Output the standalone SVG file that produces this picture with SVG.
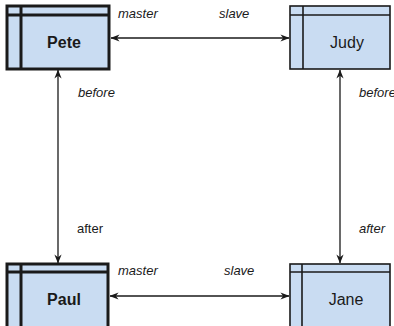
<svg xmlns="http://www.w3.org/2000/svg" width="394" height="326" viewBox="0 0 394 326">
<defs>
<style>
.box{fill:#c9dcf2;stroke:#1a1a1a}
.thick{stroke-width:3}
.thin{stroke-width:1.6}
.ln{fill:none;stroke:#1a1a1a}
.name{font-family:"Liberation Sans",Arial,sans-serif;font-size:16px;fill:#1a1a1a;text-anchor:middle}
.b{font-weight:bold}
.lbl{font-family:"Liberation Sans",Arial,sans-serif;font-size:13px;fill:#1a1a1a}
.it{font-style:italic}
.edge{fill:none;stroke:#1a1a1a;stroke-width:1.3;marker-start:url(#ah);marker-end:url(#ah)}
</style>
<marker id="ah" viewBox="0 0 10 10" refX="9.5" refY="5" markerWidth="9" markerHeight="9" markerUnits="userSpaceOnUse" orient="auto-start-reverse">
<path d="M0,1 L10,5 L0,9 L3,5 z" fill="#1a1a1a"/>
</marker>
</defs>
<g id="connectors">
<line class="edge" x1="111" y1="38" x2="289" y2="38"/>
<line class="edge" x1="110" y1="296" x2="289" y2="296"/>
<line class="edge" x1="58" y1="70" x2="58" y2="263"/>
<line class="edge" x1="340" y1="70" x2="340" y2="263"/>
<text class="lbl it" x="118" y="18">master</text>
<text class="lbl it" x="219" y="18">slave</text>
<text class="lbl it" x="118" y="275">master</text>
<text class="lbl it" x="224" y="275">slave</text>
<text class="lbl it" x="78" y="97">before</text>
<text class="lbl it" x="359" y="97">before</text>
<text class="lbl" x="77" y="233">after</text>
<text class="lbl it" x="359" y="233">after</text>
</g>
<g id="pete">
<rect class="box thick" x="7" y="6" width="102" height="63"/>
<line class="ln thick" x1="7" y1="15" x2="109" y2="15"/>
<line class="ln thick" x1="21" y1="6" x2="21" y2="69"/>
<text class="name b" x="64" y="48">Pete</text>
</g>
<g id="judy">
<rect class="box thin" x="290" y="6" width="100" height="63"/>
<line class="ln thin" x1="290" y1="15" x2="390" y2="15"/>
<line class="ln thin" x1="303" y1="6" x2="303" y2="69"/>
<text class="name" x="347" y="48">Judy</text>
</g>
<g id="paul">
<rect class="box thick" x="7" y="264" width="101" height="80"/>
<line class="ln thick" x1="7" y1="272" x2="108" y2="272"/>
<line class="ln thick" x1="21" y1="264" x2="21" y2="330"/>
<text class="name b" x="64" y="305">Paul</text>
</g>
<g id="jane">
<rect class="box thin" x="290" y="264" width="100" height="80"/>
<line class="ln thin" x1="290" y1="272" x2="390" y2="272"/>
<line class="ln thin" x1="302" y1="264" x2="302" y2="330"/>
<text class="name" x="346" y="305">Jane</text>
</g>
</svg>
